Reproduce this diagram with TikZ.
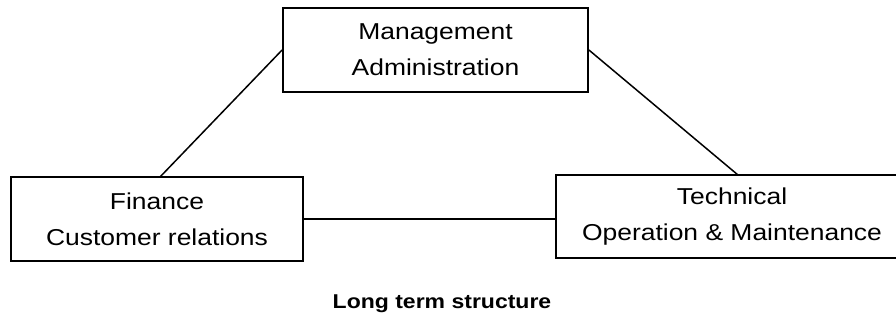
\documentclass[tikz,border=0pt]{standalone}
\usepackage{fontspec}
\setmainfont{Liberation Sans}[FakeStretch=1.15]
\begin{document}
\begin{tikzpicture}[x=1pt,y=-1pt,
  box/.style={draw, line width=1.8pt, align=center, inner sep=0pt,
    font=\fontsize{23}{36}\selectfont},
  link/.style={line width=1.5pt}]
\useasboundingbox (0,0) rectangle (896,326);
\clip (0,0) rectangle (896,326);
\node[box, minimum width=305pt, minimum height=84pt] (mgmt) at (435.5,50) {Management\\Administration};
\node[box, minimum width=292pt, minimum height=84pt] (fin) at (157,219) {Finance\\Customer relations};
\node[box, minimum width=352pt, minimum height=83pt] (tech) at (732,216.5) {Technical\\Operation \& Maintenance};
\coordinate (techtop) at (738,175);
\coordinate (fintop) at (160,177);
\draw[link] (mgmt.west) -- (fintop);
\draw[link] (mgmt.east) -- (techtop);
\draw[link] (fin.east) -- (fin.east -| tech.west);
\node[font=\fontsize{20}{24}\selectfont\bfseries, anchor=base] (cap) at (442,308) {Long term structure};
\end{tikzpicture}
\end{document}
